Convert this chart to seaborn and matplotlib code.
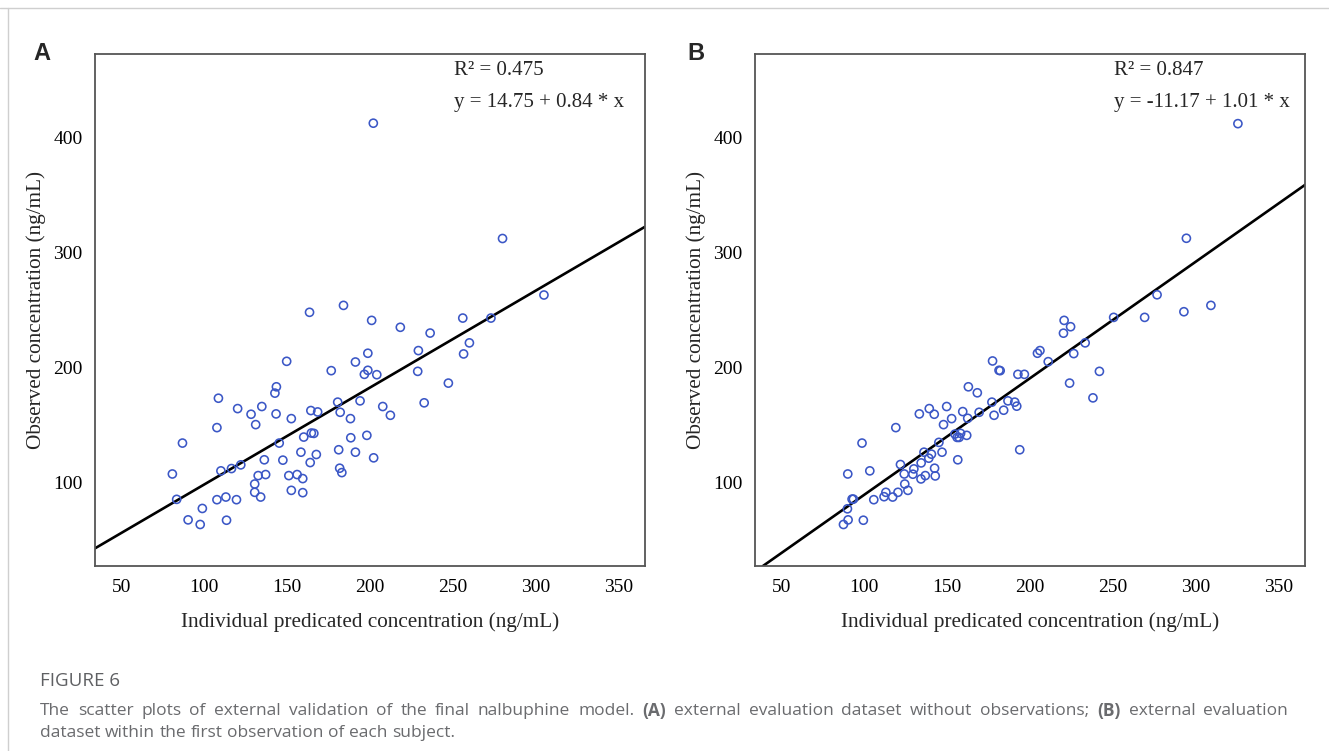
import matplotlib
matplotlib.use("Agg")
import matplotlib.pyplot as plt
import pandas as pd
import seaborn as sns
from matplotlib.lines import Line2D

# ---- (A) external evaluation dataset without observations ----
pred_a = [202, 280, 305, 184, 163.5, 201, 218.3, 256, 273, 236.3, 260, 229.2,
          256.5, 198.7, 149.7, 191.2, 176.6, 198.7, 196.6, 204.1, 228.8, 247.3,
          143.5, 142.6, 108.5, 180.5, 194, 232.7, 120.1, 134.7, 207.7, 164.3,
          168.4, 182, 212.3, 128.2, 143.3, 152.5, 188.2, 107.6, 131, 164.6,
          166.1, 160, 198.1, 188.4, 86.8, 145.2, 181.1, 158.3, 191.2, 167.6,
          202.2, 136.2, 147.4, 163.9, 122, 116.4, 110, 80.7, 181.7, 183, 132.5,
          137, 151, 156, 159.4, 130.4, 130.4, 134, 152.5, 159.4, 83.3, 107.6,
          113, 119.4, 98.8, 90.2, 113.4, 97.5]
obs_a = [412, 312, 263, 254, 248, 241, 235, 243, 243, 230, 221.5, 214.8,
         211.9, 212.5, 205.5, 204.9, 197.4, 197.7, 194.2, 193.9, 196.8, 186.6,
         183.4, 177.9, 173.5, 170.1, 171.2, 169.5, 164.5, 166.3, 166.3, 162.8,
         161.6, 161.3, 158.7, 159.6, 159.9, 155.8, 155.8, 148, 150.6, 143.3,
         143, 139.8, 141.3, 139.2, 134.6, 134.6, 128.8, 126.7, 126.7, 124.7,
         121.8, 120.1, 119.8, 117.7, 115.7, 112.5, 110.5, 107.8, 112.8, 109,
         106.4, 107.3, 106.4, 107.3, 103.8, 99.1, 91.9, 87.8, 93.6, 91.6, 85.8,
         85.5, 87.8, 85.5, 77.9, 68, 67.7, 64]

# ---- (B) external evaluation dataset within the first observation ----
pred_b = [325.5, 294.4, 276.7, 309.2, 292.9, 269.2, 250.5, 220.6, 224.5, 220.2,
          233.3, 204.5, 206, 226.4, 211, 177.4, 181.3, 182, 241.9, 192.7, 196.6,
          223.9, 162.8, 168.2, 238, 177, 186.7, 190.8, 192, 184.1, 149.7, 139.2,
          133.2, 142.2, 159.4, 169.3, 178.3, 152.7, 162.4, 147.8, 119, 98.6, 145,
          154.7, 158.1, 156, 161.8, 157.2, 193.8, 136, 146.9, 140.5, 138.9,
          156.4, 134.3, 121.8, 142.4, 129.9, 124.1, 129.3, 136.8, 142.8, 134.2,
          103.3, 90, 124.4, 126.3, 120.3, 113, 111.9, 117.1, 105.7, 92.6, 93.4,
          89.8, 90.2, 99.4, 87.4]
obs_b = [411.6, 312.2, 263.2, 254, 248.5, 243.6, 243.6, 241, 235.5, 229.9,
         221.5, 212.5, 214.8, 212.2, 205.2, 205.8, 197.7, 197.4, 196.8, 194.2,
         194.2, 186.6, 183.4, 178.2, 173.8, 170.1, 171.2, 170.1, 166.6, 163.1,
         166.3, 164.5, 159.9, 159.6, 161.9, 161.3, 158.7, 155.8, 156.1, 150.6,
         148, 134.6, 135.2, 142.4, 143, 139.5, 141.3, 139.5, 128.8, 126.7, 126.7,
         125, 121.5, 120.1, 117.4, 116, 112.8, 112.2, 107.8, 107.6, 106.4, 106.1,
         103.5, 110.5, 107.8, 99.1, 93.6, 91.9, 91.9, 88.1, 87.8, 85.5, 86, 86,
         77.6, 68, 67.7, 64]

# Fitted regression lines (intercept, slope) and R-squared values
fit_a = (14.75, 0.84)
fit_b = (-11.17, 1.01)
r2_a = 0.475
r2_b = 0.847

x_ticks = [50, 100, 150, 200, 250, 300, 350]
y_ticks = [100, 200, 300, 400]
x_limits = (34, 366)
y_limits = (28, 472)

x_label = "Individual predicated concentration (ng/mL)"
y_label = "Observed concentration (ng/mL)"

sns.set_style("white")
plt.rcParams["font.family"] = ["Liberation Serif", "DejaVu Serif"]

W, H = 1329, 751
fig = plt.figure(figsize=(W / 100, H / 100), dpi=100)
fig.patch.set_facecolor("white")

point_color = "#3b57c6"


def panel(left_px, pred, obs, fit, r2):
    ax = fig.add_axes([left_px / W, 1 - 566 / H, 550 / W, 512 / H])
    df = pd.DataFrame({"pred": pred, "obs": obs})
    sns.scatterplot(data=df, x="pred", y="obs", ax=ax, marker="o", s=34,
                    fc="none", ec=point_color, linewidth=1.15, zorder=3)
    intercept, slope = fit
    ax.axline((0, intercept), slope=slope, color="black", lw=1.9, zorder=2)
    ax.set_xlim(*x_limits)
    ax.set_ylim(*y_limits)
    ax.set_xticks(x_ticks)
    ax.set_yticks(y_ticks)
    ax.tick_params(direction="out", length=5, width=1.3, color="black",
                   labelsize=14, pad=4, labelcolor="black")
    for sp in ax.spines.values():
        sp.set_color("#555555")
        sp.set_linewidth(1.3)
    ax.set_xlabel(x_label, fontsize=15.3, labelpad=12)
    ax.set_ylabel(y_label, fontsize=15.3, labelpad=5)
    sign = "-" if intercept < 0 else ""
    ax.text(0.652, 0.968, f"R\u00b2 = {r2:.3f}", transform=ax.transAxes,
            fontsize=15, ha="left", va="center")
    ax.text(0.652, 0.906,
            f"y = {sign}{abs(intercept):.2f} + {slope:.2f} * x",
            transform=ax.transAxes, fontsize=15, ha="left", va="center")
    return ax


ax_a = panel(95, pred_a, obs_a, fit_a, r2_a)
ax_b = panel(755, pred_b, obs_b, fit_b, r2_b)

# Panel letters
fig.text(33 / W, 1 - 60 / H, "A", fontsize=17, fontweight="bold",
         family=["Liberation Sans", "DejaVu Sans"], ha="left", va="baseline")
fig.text(687 / W, 1 - 60 / H, "B", fontsize=17, fontweight="bold",
         family=["Liberation Sans", "DejaVu Sans"], ha="left", va="baseline")

# Page frame lines
fig.add_artist(Line2D([0, 1], [1 - 8 / H, 1 - 8 / H], transform=fig.transFigure,
                      color="#cfcfcf", lw=1.0))
fig.add_artist(Line2D([8 / W, 8 / W], [0, 1 - 8 / H], transform=fig.transFigure,
                      color="#cfcfcf", lw=1.0))

# Caption
cap_font = ["Open Sans", "DejaVu Sans"]
cap_color = "#6a6b6e"
fig.text(40 / W, 1 - 681 / H, "FIGURE 6", fontsize=13.5, color="#5f6063",
         family=cap_font, ha="left", va="center")

renderer = fig.canvas.get_renderer()
cap_size = 12.5


def word_widths(words):
    out = []
    for w, bold in words:
        t = fig.text(0, 0, w, fontsize=cap_size, family=cap_font,
                     fontweight="bold" if bold else "normal")
        out.append(t.get_window_extent(renderer).width)
        t.remove()
    return out


def caption_line(x_px, y_px, words, right_px=None):
    widths = word_widths(words)
    sp = fig.text(0, 0, "a a", fontsize=cap_size, family=cap_font)
    a = fig.text(0, 0, "aa", fontsize=cap_size, family=cap_font)
    gap = sp.get_window_extent(renderer).width - a.get_window_extent(renderer).width
    sp.remove()
    a.remove()
    if right_px is not None:
        # justified line: spread the remaining space over the word gaps
        gap = max(gap, (right_px - x_px - sum(widths)) / (len(words) - 1))
    x = x_px
    for (w, bold), wd in zip(words, widths):
        fig.text(x / W, 1 - y_px / H, w, fontsize=cap_size, color=cap_color,
                 family=cap_font, fontweight="bold" if bold else "normal",
                 ha="left", va="center")
        x += wd + gap


def split_words(pieces):
    words = []
    for txt, bold in pieces:
        words += [(w, bold) for w in txt.split()]
    return words


line1 = [("The scatter plots of external validation of the final nalbuphine model.", False),
         ("(A)", True),
         ("external evaluation dataset without observations;", False),
         ("(B)", True),
         ("external evaluation", False)]
line2 = [("dataset within the first observation of each subject.", False)]
caption_line(40, 711, split_words(line1), right_px=1288)
caption_line(40, 733, split_words(line2))

fig.savefig("out.png", dpi=100, facecolor="white")
